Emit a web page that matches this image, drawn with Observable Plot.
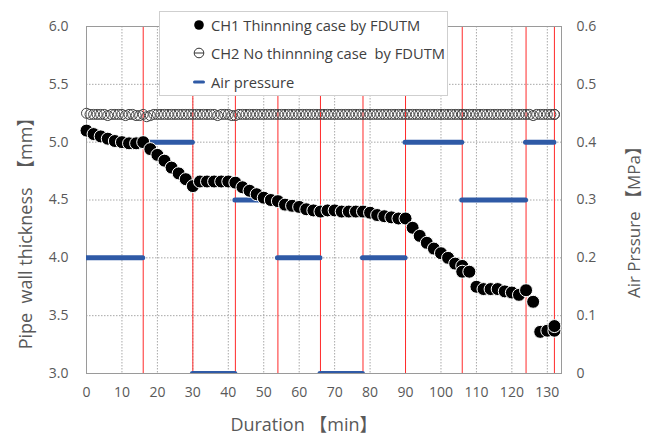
<!DOCTYPE html>
<html><head><meta charset="utf-8">
<script src="https://cdn.jsdelivr.net/npm/d3@7"></script>
<script src="https://cdn.jsdelivr.net/npm/@observablehq/plot@0.6"></script>
<style>
body{margin:0;background:#fff;}
#wrap{position:relative;width:656px;height:436px;overflow:hidden;font-family:"Open Sans","Noto Sans CJK JP",sans-serif;}
#legend{position:absolute;left:159px;top:11px;width:289px;height:85px;background:#fff;border:1px solid #cfcfcf;box-sizing:border-box;color:#404040;font-size:14.7px;}
.li{position:absolute;left:0;height:22px;display:flex;align-items:center;white-space:nowrap;}
.li svg{margin-left:33px;margin-right:6px;}
.lab{position:absolute;color:#595959;font-size:18px;line-height:20px;white-space:nowrap;}
</style></head>
<body>
<div id="wrap">
<div id="chart"></div>
<div id="legend">
 <div class="li" style="top:2px"><svg width="12" height="12"><circle cx="6" cy="6" r="4.8" fill="#000"/></svg><span>CH1 Thinnning case by FDUTM</span></div>
 <div class="li" style="top:30px"><svg width="12" height="12"><circle cx="6" cy="6" r="4.8" fill="none" stroke="#333" stroke-width="1"/><line x1="1.5" x2="10.5" y1="6" y2="6" stroke="#333" stroke-width="1"/></svg><span>CH2 No thinnning case&nbsp; by FDUTM</span></div>
 <div class="li" style="top:59px"><svg width="12" height="12"><line x1="1.5" x2="10.5" y1="6" y2="6" stroke="#2f5aa6" stroke-width="3" stroke-linecap="round"/></svg><span>Air pressure</span></div>
</div>
<div class="lab" id="ylab" style="left:25px;top:229px;transform:translate(-50%,-50%) rotate(-90deg);">Pipe&nbsp;&nbsp;wall thickness&nbsp;&nbsp;【mm】</div>
<div class="lab" id="y2lab" style="left:634px;top:218px;font-size:17px;transform:translate(-50%,-50%) rotate(-90deg);">Air Prssure 【MPa】</div>
<div class="lab" id="xlab" style="left:304px;top:424px;transform:translate(-50%,-50%);">Duration 【min】</div>
</div>
<script>
// CH1 thinning case (time min, thickness mm)
const ch1Time  = [0,2,4,6,8,10,12,14,16,18,20,22,24,26,28,30,32,34,36,38,40,42,44,46,48,50,52,54,56,58,60,62,64,66,68,70,72,74,76,78,80,82,84,86,88,90,92,94,96,98,100,102,104,106,106,108,110,112,114,116,118,120,122,124,126,128,130,132,132];
const ch1Thick = [5.10,5.07,5.05,5.03,5.01,5.00,4.99,4.99,5.00,4.94,4.89,4.84,4.78,4.73,4.68,4.62,4.66,4.66,4.66,4.66,4.66,4.65,4.61,4.58,4.55,4.52,4.50,4.49,4.46,4.45,4.44,4.42,4.41,4.40,4.41,4.41,4.40,4.40,4.40,4.40,4.39,4.37,4.36,4.35,4.34,4.34,4.26,4.19,4.13,4.08,4.04,4.00,3.95,3.93,3.88,3.88,3.75,3.73,3.73,3.73,3.71,3.70,3.68,3.72,3.62,3.36,3.37,3.37,3.41];
// CH2 no thinning case
const ch2Time  = [0,1,2,3,4,5,6,7,8,9,10,11,12,13,14,15,16,17,18,19,20,21,22,23,24,25,26,27,28,29,30,31,32,33,34,35,36,37,38,39,40,41,42,43,44,45,46,47,48,49,50,51,52,53,54,55,56,57,58,59,60,61,62,63,64,65,66,67,68,69,70,71,72,73,74,75,76,77,78,79,80,81,82,83,84,85,86,87,88,89,90,91,92,93,94,95,96,97,98,99,100,101,102,103,104,105,106,106,107,108,109,110,111,112,113,114,115,116,117,118,119,120,121,122,123,124,125,126,127,128,129,130,131,132,132];
const ch2Thick = [5.25,5.24,5.24,5.24,5.24,5.24,5.23,5.24,5.24,5.24,5.24,5.23,5.24,5.24,5.23,5.23,5.24,5.22,5.23,5.24,5.24,5.24,5.24,5.24,5.24,5.24,5.24,5.24,5.24,5.24,5.24,5.24,5.24,5.24,5.24,5.24,5.24,5.23,5.24,5.24,5.24,5.23,5.23,5.24,5.24,5.24,5.24,5.24,5.24,5.24,5.24,5.24,5.24,5.24,5.24,5.24,5.24,5.24,5.24,5.24,5.24,5.24,5.24,5.24,5.24,5.24,5.24,5.24,5.24,5.24,5.24,5.24,5.24,5.24,5.24,5.24,5.24,5.24,5.24,5.24,5.24,5.24,5.24,5.24,5.24,5.24,5.24,5.24,5.24,5.24,5.24,5.24,5.24,5.24,5.24,5.24,5.24,5.24,5.24,5.24,5.24,5.24,5.24,5.24,5.24,5.24,5.24,5.24,5.24,5.24,5.24,5.24,5.24,5.24,5.24,5.24,5.24,5.24,5.24,5.24,5.24,5.24,5.24,5.24,5.24,5.24,5.24,5.23,5.24,5.24,5.24,5.24,5.24,5.24,5.24];
// Air pressure schedule
const pressStart = [0,16,30,42,54,66,78,90,106,124];
const pressEnd   = [16,30,42,54,66,78,90,106,124,132];
const pressMPa   = [0.2,0.4,0,0.3,0.2,0,0.2,0.4,0.3,0.4];
const changeTimes = [16,30,42,54,66,78,90,106,124,132];
// ticks
const xTicks = [0,10,20,30,40,50,60,70,80,90,100,110,120,130];
const yTicks = [3.0,3.5,4.0,4.5,5.0,5.5,6.0];
const y2Ticks = [0,0.1,0.2,0.3,0.4,0.5,0.6];

// map pressure (0..0.6 MPa) onto thickness axis (3..6 mm)
const toLeft = p => 3 + p * 5;

const ch1 = ch1Time.map((t,i)=>({t, v:ch1Thick[i]}));
const ch2 = ch2Time.map((t,i)=>({t, v:ch2Thick[i]}));
const press = pressStart.map((s,i)=>({s, e:pressEnd[i], y:toLeft(pressMPa[i])}));

const chart = Plot.plot({
  width:656, height:436,
  marginLeft:86, marginRight:95, marginTop:26, marginBottom:63,
  x:{domain:[0,134]},
  y:{domain:[3,6]},
  style:{fontFamily:'"Open Sans","Noto Sans CJK JP",sans-serif', fontSize:"14px", color:"#595959", background:"transparent"},
  marks:[
    Plot.gridX(xTicks,{stroke:"#a8a8a8", strokeOpacity:1, strokeDasharray:"1.5,1.5"}),
    Plot.gridY(yTicks,{stroke:"#a8a8a8", strokeOpacity:1, strokeDasharray:"1.5,1.5"}),
    Plot.ruleX(changeTimes,{stroke:"#ff2a2a", strokeWidth:1}),
    Plot.frame({stroke:"#9a9a9a"}),
    Plot.ruleY(press,{x1:"s", x2:"e", y:"y", stroke:"#2f5aa6", strokeWidth:5, strokeLinecap:"round", clip:true}),
    Plot.dot(ch2,{x:"t", y:"v", r:5, fill:"none", stroke:"#444", strokeWidth:1}),
    Plot.dot(ch1,{x:"t", y:"v", r:6.5, fill:"#000", stroke:"#fff", strokeWidth:1}),
    Plot.axisX({ticks:xTicks, tickSize:0, tickPadding:14, label:null}),
    Plot.axisY({ticks:yTicks, tickSize:0, tickPadding:18, tickFormat:d3.format(".1f"), label:null}),
    Plot.axisY({anchor:"right", ticks:y2Ticks.map(toLeft), tickSize:0, tickPadding:15, textAnchor:"start",
      tickFormat:(d,i)=> y2Ticks[i] === 0 ? "0" : d3.format(".1f")(y2Ticks[i]), label:null})
  ]
});
document.getElementById("chart").appendChild(chart);
</script>
</body></html>
